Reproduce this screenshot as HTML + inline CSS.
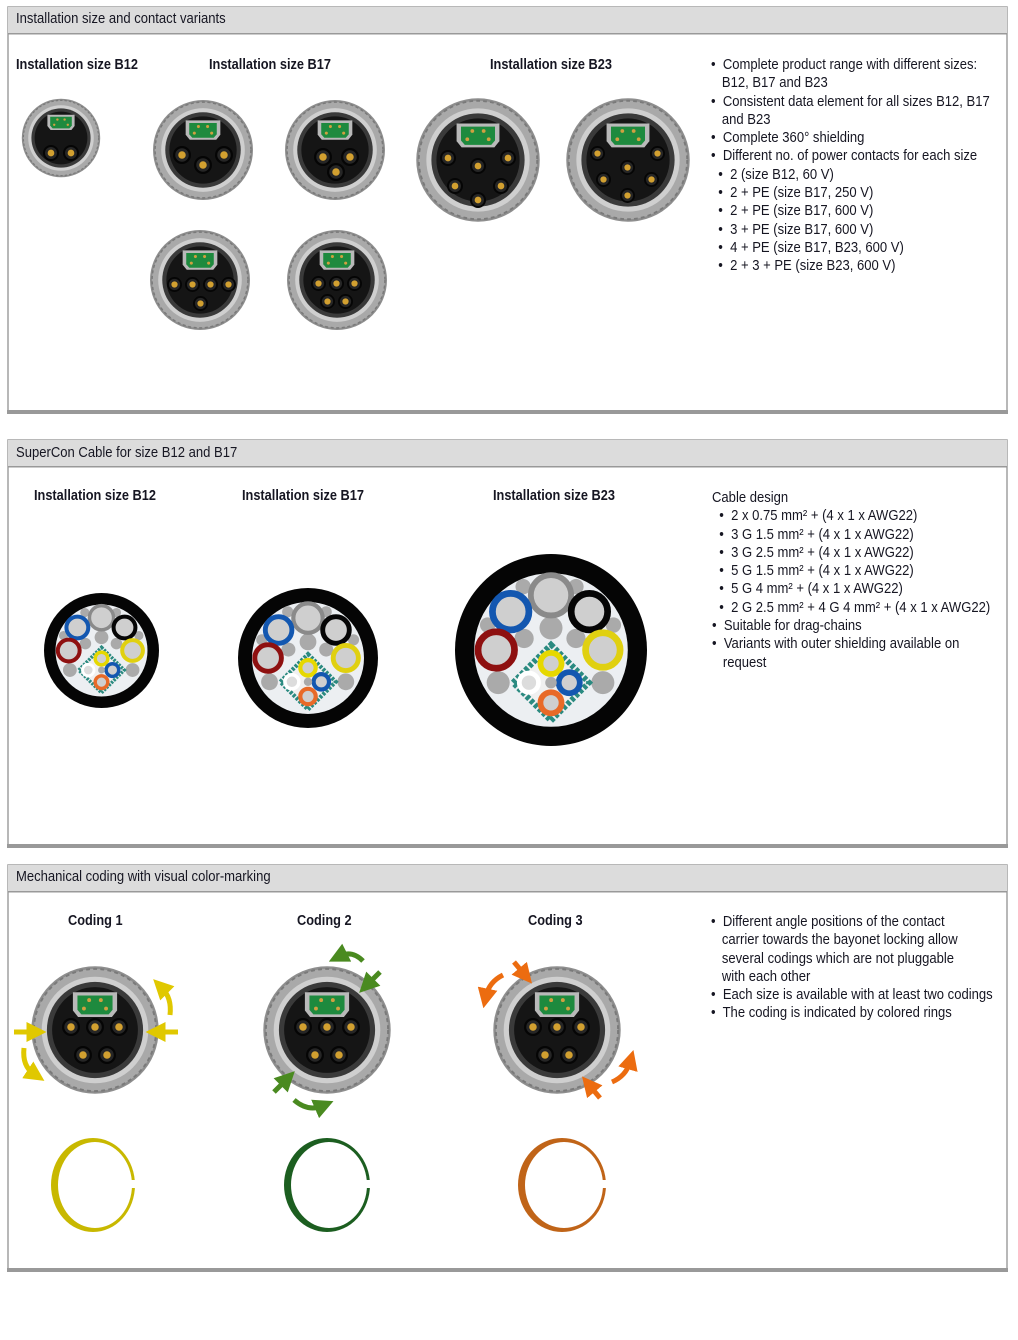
<!DOCTYPE html>
<html><head><meta charset="utf-8"><style>
body{margin:0;background:#fff;width:1018px;height:1340px;position:relative;overflow:hidden;font-family:"Liberation Sans",sans-serif;color:#161622}
.t{position:absolute;white-space:nowrap;font-size:14.5px;line-height:18.3px;transform:scaleX(0.9);transform-origin:0 0}
.h{position:absolute;white-space:nowrap;font-size:14.5px;font-weight:bold;transform:scaleX(0.88);transform-origin:0 0}
.hd{position:absolute;left:16px;font-size:14.5px;white-space:nowrap;transform:scaleX(0.9);transform-origin:0 0}
svg{position:absolute;left:0;top:0}
</style></head><body>
<svg width="1018" height="1340" viewBox="0 0 1018 1340">
<defs>
<symbol id="con" viewBox="-100 -100 200 200">
<circle r="98" fill="#8e8e8e"/>
<circle r="94" fill="#a9a9a9" stroke="#7a7a7a" stroke-width="3" stroke-dasharray="6 5"/>
<circle r="82" fill="#cfcfcf"/>
<circle r="74" fill="#3a3a3a"/>
<circle r="66" fill="#151515"/>
<path d="M-34,-58 h68 v28 l-8,10 h-52 l-8,-10z" fill="#b9b9b9"/>
<path d="M-27,-53 h54 v22 l-6,7 h-42 l-6,-7z" fill="#1e8a3e"/>
<circle cx="-9" cy="-46" r="3" fill="#d0a040"/><circle cx="9" cy="-46" r="3" fill="#d0a040"/>
<circle cx="-17" cy="-33" r="3" fill="#d0a040"/><circle cx="17" cy="-33" r="3" fill="#d0a040"/>
</symbol>
<symbol id="pin" viewBox="-12 -12 24 24"><circle r="12" fill="#050505"/><circle r="9" fill="#262626"/><circle r="5" fill="#d2a030"/></symbol>
<symbol id="cable" viewBox="-100 -100 200 200">
<circle r="100" fill="#050505"/>
<circle r="80" fill="#eceff2"/>
<g fill="#aaa"><circle cx="-29" cy="-66" r="8"/><circle cx="26" cy="-66" r="8"/><circle cx="-66" cy="-26" r="8"/><circle cx="65" cy="-26" r="8"/><circle cx="0" cy="-23" r="12"/><circle cx="-28" cy="-12" r="10"/><circle cx="26" cy="-12" r="10"/><circle cx="-55" cy="34" r="12"/><circle cx="54" cy="34" r="12"/></g>
<circle cx="0" cy="-57" r="21" fill="#cfcfcf" stroke="#8a8a8a" stroke-width="6"/>
<circle cx="-42" cy="-40" r="19" fill="#cfcfcf" stroke="#1357b0" stroke-width="7"/>
<circle cx="40" cy="-40" r="19" fill="#cfcfcf" stroke="#050505" stroke-width="7"/>
<circle cx="-57" cy="0" r="19" fill="#cfcfcf" stroke="#8e1010" stroke-width="7"/>
<circle cx="54" cy="0" r="18" fill="#cfcfcf" stroke="#e0d010" stroke-width="7"/>
<rect x="-28" y="6" width="56" height="56" transform="rotate(45 0 34)" fill="#f0f0f0" stroke="#2a8a80" stroke-width="6" stroke-dasharray="4 2"/>
<circle cx="0" cy="14" r="11" fill="#cfcfcf" stroke="#e6d800" stroke-width="6"/>
<circle cx="19" cy="34" r="11" fill="#cfcfcf" stroke="#1357b0" stroke-width="6"/>
<circle cx="-23" cy="34" r="10" fill="#dcdcdc" stroke="#fff" stroke-width="5"/>
<circle cx="0" cy="34" r="6" fill="#aaa"/>
<circle cx="0" cy="55" r="11" fill="#cfcfcf" stroke="#e86a28" stroke-width="6"/>
</symbol>
<marker id="ay" markerWidth="4" markerHeight="4" refX="1.5" refY="2" orient="auto"><path d="M0,0L4,2L0,4z" fill="#e0c800"/></marker>
<marker id="ag" markerWidth="4" markerHeight="4" refX="1.5" refY="2" orient="auto"><path d="M0,0L4,2L0,4z" fill="#4a8a20"/></marker>
<marker id="ao" markerWidth="4" markerHeight="4" refX="1.5" refY="2" orient="auto"><path d="M0,0L4,2L0,4z" fill="#ec6c10"/></marker>
</defs>
<g fill="none" stroke="#a0a0a0" stroke-width="1.5">
<rect x="8" y="7" width="999" height="405"/>
<rect x="8" y="440" width="999" height="406"/>
<rect x="8" y="865" width="999" height="404"/>
</g>
<g fill="#dcdcdc"><rect x="8" y="7" width="999" height="26"/><rect x="8" y="440" width="999" height="26"/><rect x="8" y="865" width="999" height="26"/></g>
<g fill="#999"><rect x="8" y="33" width="999" height="1.5"/><rect x="8" y="466" width="999" height="1.5"/><rect x="8" y="891" width="999" height="1.5"/>
<rect x="7" y="410" width="1001" height="4"/><rect x="7" y="844" width="1001" height="4"/><rect x="7" y="1268" width="1001" height="4"/></g>

<use href="#con" x="21" y="98" width="80" height="80"/>
<use href="#pin" x="43" y="145" width="16" height="16"/><use href="#pin" x="63" y="145" width="16" height="16"/>
<use href="#con" x="152" y="99" width="102" height="102"/>
<use href="#pin" x="173" y="146" width="18" height="18"/><use href="#pin" x="194" y="156" width="18" height="18"/><use href="#pin" x="215" y="146" width="18" height="18"/>
<use href="#con" x="284" y="99" width="102" height="102"/>
<use href="#pin" x="314" y="148" width="18" height="18"/><use href="#pin" x="341" y="148" width="18" height="18"/><use href="#pin" x="327" y="163" width="18" height="18"/>
<use href="#con" x="149" y="229" width="102" height="102"/>
<use href="#pin" x="167" y="277" width="15" height="15"/><use href="#pin" x="185" y="277" width="15" height="15"/><use href="#pin" x="203" y="277" width="15" height="15"/><use href="#pin" x="221" y="277" width="15" height="15"/><use href="#pin" x="193" y="296" width="15" height="15"/>
<use href="#con" x="286" y="229" width="102" height="102"/>
<use href="#pin" x="311" y="276" width="15" height="15"/><use href="#pin" x="329" y="276" width="15" height="15"/><use href="#pin" x="347" y="276" width="15" height="15"/><use href="#pin" x="320" y="294" width="15" height="15"/><use href="#pin" x="338" y="294" width="15" height="15"/>
<use href="#con" x="415" y="97" width="126" height="126"/>
<g><use href="#pin" x="440" y="150" width="16" height="16"/><use href="#pin" x="500" y="150" width="16" height="16"/><use href="#pin" x="470" y="158" width="16" height="16"/><use href="#pin" x="447" y="178" width="16" height="16"/><use href="#pin" x="493" y="178" width="16" height="16"/><use href="#pin" x="470" y="192" width="16" height="16"/></g>
<use href="#con" x="565" y="97" width="126" height="126"/>
<g><use href="#pin" x="590" y="146" width="15" height="15"/><use href="#pin" x="650" y="146" width="15" height="15"/><use href="#pin" x="620" y="160" width="15" height="15"/><use href="#pin" x="596" y="172" width="15" height="15"/><use href="#pin" x="644" y="172" width="15" height="15"/><use href="#pin" x="620" y="188" width="15" height="15"/></g>

<use href="#cable" x="44" y="593" width="115" height="115"/>
<use href="#cable" x="238" y="588" width="140" height="140"/>
<use href="#cable" x="455" y="554" width="192" height="192"/>

<g id="c5">
<use href="#con" x="30" y="965" width="130" height="130"/>
<use href="#pin" x="62" y="1018" width="18" height="18"/><use href="#pin" x="86" y="1018" width="18" height="18"/><use href="#pin" x="110" y="1018" width="18" height="18"/><use href="#pin" x="74" y="1046" width="18" height="18"/><use href="#pin" x="98" y="1046" width="18" height="18"/>
</g>
<use href="#c5" transform="translate(232 0)"/>
<use href="#c5" transform="translate(462 0)"/>
<g fill="none" stroke-width="5">
<path d="M14,1032 H34" stroke="#e0c800" marker-end="url(#ay)"/>
<path d="M178,1032 H158" stroke="#e0c800" marker-end="url(#ay)"/>
<path d="M170,1015 Q172,998 162,988" stroke="#e0c800" marker-end="url(#ay)"/>
<path d="M24,1048 Q22,1066 34,1074" stroke="#e0c800" marker-end="url(#ay)"/>
<path d="M363,961 Q352,950 340,956" stroke="#4a8a20" marker-end="url(#ag)"/>
<path d="M380,972 L368,984" stroke="#4a8a20" marker-end="url(#ag)"/>
<path d="M274,1092 L286,1080" stroke="#4a8a20" marker-end="url(#ag)"/>
<path d="M294,1100 Q308,1112 322,1106" stroke="#4a8a20" marker-end="url(#ag)"/>
<path d="M503,975 Q489,982 486,996" stroke="#ec6c10" marker-end="url(#ao)"/>
<path d="M514,962 L524,974" stroke="#ec6c10" marker-end="url(#ao)"/>
<path d="M600,1098 L590,1086" stroke="#ec6c10" marker-end="url(#ao)"/>
<path d="M612,1082 Q626,1076 630,1062" stroke="#ec6c10" marker-end="url(#ao)"/>
</g>
<g>
<ellipse cx="93" cy="1185" rx="42" ry="47" fill="#c8b800"/><ellipse cx="95" cy="1185" rx="37" ry="43" fill="#fff"/><rect x="125" y="1180" width="14" height="8" fill="#fff"/>
<ellipse cx="327" cy="1185" rx="43" ry="47" fill="#1c5e20"/><ellipse cx="329" cy="1185" rx="38" ry="43" fill="#fff"/><rect x="360" y="1180" width="14" height="8" fill="#fff"/>
<ellipse cx="562" cy="1185" rx="44" ry="47" fill="#c06418"/><ellipse cx="564" cy="1185" rx="39" ry="43" fill="#fff"/><rect x="596" y="1180" width="14" height="8" fill="#fff"/>
</g>
</svg>

<div class="hd" style="top:11px">Installation size and contact variants</div>
<div class="hd" style="top:445px">SuperCon Cable for size B12 and B17</div>
<div class="hd" style="top:869px">Mechanical coding with visual color-marking</div>

<div class="h" style="left:16px;top:57px">Installation size B12</div>
<div class="h" style="left:209px;top:57px">Installation size B17</div>
<div class="h" style="left:490px;top:57px">Installation size B23</div>
<div class="t" style="left:711px;top:56px">•&nbsp; Complete product range with different sizes:<br>&nbsp;&nbsp;&nbsp;B12, B17 and B23<br>•&nbsp; Consistent data element for all sizes B12, B17<br>&nbsp;&nbsp;&nbsp;and B23<br>•&nbsp; Complete 360° shielding<br>•&nbsp; Different no. of power contacts for each size<br>&nbsp;&nbsp;•&nbsp; 2 (size B12, 60 V)<br>&nbsp;&nbsp;•&nbsp; 2 + PE (size B17, 250 V)<br>&nbsp;&nbsp;•&nbsp; 2 + PE (size B17, 600 V)<br>&nbsp;&nbsp;•&nbsp; 3 + PE (size B17, 600 V)<br>&nbsp;&nbsp;•&nbsp; 4 + PE (size B17, B23, 600 V)<br>&nbsp;&nbsp;•&nbsp; 2 + 3 + PE (size B23, 600 V)</div>

<div class="h" style="left:34px;top:488px">Installation size B12</div>
<div class="h" style="left:242px;top:488px">Installation size B17</div>
<div class="h" style="left:493px;top:488px">Installation size B23</div>
<div class="t" style="left:712px;top:489px">Cable design<br>&nbsp;&nbsp;•&nbsp; 2 x 0.75 mm² + (4 x 1 x AWG22)<br>&nbsp;&nbsp;•&nbsp; 3 G 1.5 mm² + (4 x 1 x AWG22)<br>&nbsp;&nbsp;•&nbsp; 3 G 2.5 mm² + (4 x 1 x AWG22)<br>&nbsp;&nbsp;•&nbsp; 5 G 1.5 mm² + (4 x 1 x AWG22)<br>&nbsp;&nbsp;•&nbsp; 5 G 4 mm² + (4 x 1 x AWG22)<br>&nbsp;&nbsp;•&nbsp; 2 G 2.5 mm² + 4 G 4 mm² + (4 x 1 x AWG22)<br>•&nbsp; Suitable for drag-chains<br>•&nbsp; Variants with outer shielding available on<br>&nbsp;&nbsp;&nbsp;request</div>

<div class="h" style="left:68px;top:913px">Coding 1</div>
<div class="h" style="left:297px;top:913px">Coding 2</div>
<div class="h" style="left:528px;top:913px">Coding 3</div>
<div class="t" style="left:711px;top:913px">•&nbsp; Different angle positions of the contact<br>&nbsp;&nbsp;&nbsp;carrier towards the bayonet locking allow<br>&nbsp;&nbsp;&nbsp;several codings which are not pluggable<br>&nbsp;&nbsp;&nbsp;with each other<br>•&nbsp; Each size is available with at least two codings<br>•&nbsp; The coding is indicated by colored rings</div>
</body></html>
